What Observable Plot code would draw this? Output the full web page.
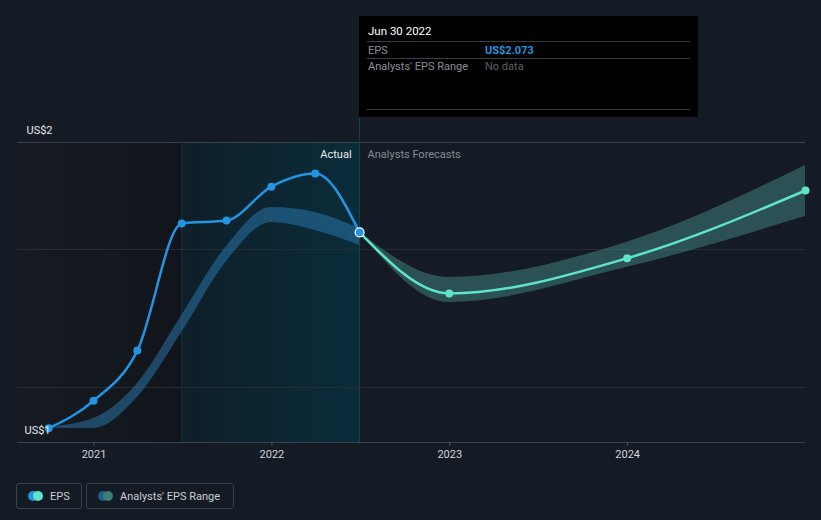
<!DOCTYPE html>
<html><head><meta charset="utf-8">
<script src="https://cdn.jsdelivr.net/npm/d3@7"></script>
<script src="https://cdn.jsdelivr.net/npm/@observablehq/plot@0.6"></script>
<style>
html,body{margin:0;padding:0;background:#151b24;}
#wrap{position:relative;width:821px;height:520px;overflow:hidden;font-family:Roboto,"Noto Sans",sans-serif;background:#151b24;}
#chart svg{display:block;}
#tip{position:absolute;left:359px;top:16px;width:339px;height:101px;background:#000;color:#fff;font-size:11px;}
#tip .row{position:absolute;left:9px;right:8px;white-space:nowrap;}
#tip .hr{position:absolute;left:8px;right:8px;height:1px;background:#3a3d42;}
#legend{position:absolute;left:0;top:483px;}
.lg{position:absolute;top:0;display:flex;align-items:center;height:26px;border:1px solid #3a414c;border-radius:3px;padding:0 0 0 11px;color:#c9cdd2;font-size:11px;box-sizing:border-box;white-space:nowrap;}
.ic{position:relative;width:14px;height:10px;margin-right:8px;flex:none;}
.ic span{position:absolute;top:0;width:10px;height:10px;border-radius:50%;}
</style></head>
<body><div id="wrap"><div id="chart"></div>
<div id="tip">
  <div class="row" style="top:8px;color:#fff;font-size:11.5px">Jun 30 2022</div>
  <div class="hr" style="top:25px"></div>
  <div class="row" style="top:28px;color:#8a8f96">EPS</div>
  <div class="row" style="top:28px;left:126px;color:#2394df;font-weight:bold">US$2.073</div>
  <div class="hr" style="top:42px"></div>
  <div class="row" style="top:44px;color:#8a8f96">Analysts' EPS Range</div>
  <div class="row" style="top:44px;left:126px;color:#5d6168">No data</div>
  <div class="hr" style="top:93px"></div>
</div>
<div id="legend">
  <div class="lg" style="left:16px;width:66px"><div class="ic"><span style="left:0;background:#2394df"></span><span style="left:5px;background:#5ee5c9"></span></div>EPS</div>
  <div class="lg" style="left:86px;width:148px"><div class="ic"><span style="left:0;background:#1f5f8b"></span><span style="left:5px;background:#3b7f7a"></span></div>Analysts' EPS Range</div>
</div>
</div>
<script>
const actualDates = ["2020-09-30","2020-12-31","2021-03-31","2021-06-30","2021-09-30","2021-12-31","2022-03-31","2022-06-30"];
const actualEps = [1.378,1.459,1.620,2.112,2.125,2.280,2.343,2.073];
const pastRangeLow = [1.378,1.377,1.469,1.682,1.951,2.116,2.081,2.017];
const pastRangeHigh = [1.381,1.406,1.512,1.743,2.013,2.183,2.160,2.089];
const forecastDates = ["2022-06-30","2022-12-31","2023-12-31","2024-12-31"];
const forecastEps = [2.073,1.825,1.964,2.262];
const forecastLow = [2.073,1.791,1.927,2.143];
const forecastHigh = [2.073,1.887,2.031,2.383];
const yearTicks = ["2021-01-01","2022-01-01","2023-01-01","2024-01-01"];
const gridValues = [1.5,2,2.5];
const yLabels = ["US$2","US$1"];
const chartStart = "2020-07-28", chartEnd = "2024-12-31";
const actualStart = "2021-06-30", nowDate = "2022-06-30";
const yMin = 1.3375, yMax = 2.5;

const P = s => new Date(s + "T00:00:00Z");
const actual = actualDates.map((d,i)=>({date:P(d), eps:actualEps[i], lo:pastRangeLow[i], hi:pastRangeHigh[i]}));
const forecast = forecastDates.map((d,i)=>({date:P(d), eps:forecastEps[i], lo:forecastLow[i], hi:forecastHigh[i]}));
const x0 = P(chartStart), x1 = P(chartEnd), xa = P(actualStart), xn = P(nowDate);

const defs = () => {
  const ns = "http://www.w3.org/2000/svg";
  const d = document.createElementNS(ns, "defs");
  d.innerHTML = `<linearGradient id="gPast" x1="0" x2="1" y1="0" y2="0"><stop offset="0" stop-color="#161b23"/><stop offset="1" stop-color="#11151b"/></linearGradient>
  <linearGradient id="gAct" x1="0" x2="1" y1="0" y2="0"><stop offset="0" stop-color="#0e1f28"/><stop offset="1" stop-color="#0a2c3b"/></linearGradient>`;
  return d;
};

const chart = Plot.plot({
  width: 821, height: 470,
  marginTop: 117, marginBottom: 28, marginLeft: 17, marginRight: 16,
  style: {background: "transparent", fontFamily: "Roboto, sans-serif", overflow: "visible"},
  x: {type: "utc", domain: [x0, x1], range: [17, 805], axis: null},
  y: {type: "log", domain: [yMin, yMax], range: [442, 142], axis: null},
  marks: [
    defs,
    Plot.rect([0], {x1: x0, x2: xa, y1: yMin, y2: yMax, fill: "url(#gPast)"}),
    Plot.rect([0], {x1: xa, x2: xn, y1: yMin, y2: yMax, fill: "url(#gAct)"}),
    Plot.ruleY(gridValues.slice(0,2), {x1: x0, x2: x1, stroke: "#262c35", strokeWidth: 1}),
    Plot.ruleY([yMax], {x1: x0, x2: x1, stroke: "#3d434b", strokeWidth: 1}),
    Plot.ruleY([yMin], {x1: x0, x2: x1, stroke: "#3d434b", strokeWidth: 1}),
    Plot.ruleX([xa], {y1: yMin, y2: yMax, stroke: "#18303b", strokeWidth: 1}),
    Plot.ruleX([xn], {stroke: "#1c4050", strokeWidth: 1}),
    Plot.axisX(yearTicks.map(P), {tickSize: 4, tickPadding: 4, tickFormat: "%Y", stroke: "#4a5059", fill: "#d0d4d9", fontSize: 11, label: null}),
    Plot.areaY(actual, {x: "date", y1: "lo", y2: "hi", curve: "monotone-x", fill: "#2e86c1", fillOpacity: 0.45}),
    Plot.areaY(forecast, {x: "date", y1: "lo", y2: "hi", curve: "monotone-x", fill: "#4a9590", fillOpacity: 0.45}),
    Plot.line(forecast, {x: "date", y: "eps", curve: "monotone-x", stroke: "#5ee5c9", strokeWidth: 2.5}),
    Plot.dot(forecast.slice(1), {x: "date", y: "eps", r: 4, fill: "#5ee5c9"}),
    Plot.line(actual, {x: "date", y: "eps", curve: "monotone-x", stroke: "#2394df", strokeWidth: 2.5}),
    Plot.dot(actual.slice(0, -1), {x: "date", y: "eps", r: 4, fill: "#2394df"}),
    Plot.dot(actual.slice(-1), {x: "date", y: "eps", r: 4.5, fill: "#2394df", stroke: "#ffffff", strokeWidth: 1.2}),
    Plot.text([yLabels[0]], {x: x0, y: yMax, text: d => d, dx: 9, dy: -12, textAnchor: "start", fill: "#e6e8eb", fontSize: 11}),
    Plot.text([yLabels[1]], {x: x0, y: yMin, text: d => d, dx: 7, dy: -12, textAnchor: "start", fill: "#e6e8eb", fontSize: 11}),
    Plot.text(["Actual"], {x: xn, y: yMax, text: d => d, dx: -8, dy: 12, textAnchor: "end", fill: "#e8eaed", fontSize: 11}),
    Plot.text(["Analysts Forecasts"], {x: xn, y: yMax, text: d => d, dx: 8, dy: 12, textAnchor: "start", fill: "#858b93", fontSize: 11})
  ]
});
document.getElementById("chart").appendChild(chart);
</script>
</body></html>
